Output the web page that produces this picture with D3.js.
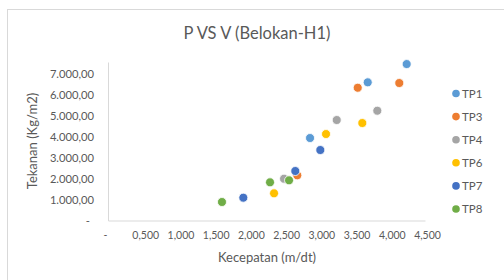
<!DOCTYPE html>
<html><head><meta charset="utf-8">
<script src="https://cdn.jsdelivr.net/npm/d3@7"></script>
<style>body{margin:0;background:#fff}svg{display:block}text{font-family:Lato,"Open Sans",sans-serif;fill:#595959}</style>
</head><body>
<script>
const seriesNames = ["TP1","TP3","TP4","TP6","TP7","TP8"];
const seriesColors = ["#5B9BD5","#ED7D31","#A5A5A5","#FFC000","#4472C4","#70AD47"];
const velocity = [
  [4.24, 3.687, 2.868],
  [3.545, 4.135, 2.687],
  [3.823, 3.247, 2.499],
  [3.610, 3.095, 2.357],
  [3.014, 2.659, 1.921],
  [1.618, 2.300, 2.570]
];
const pressure = [
  [7452, 6581, 3929],
  [6324, 6548, 2152],
  [5229, 4786, 1990],
  [4643, 4119, 1295],
  [3357, 2357, 1086],
  [881, 1819, 1914]
];
const xTicks = [0,0.5,1,1.5,2,2.5,3,3.5,4,4.5];
const xTickLabels = ["-","0,500","1,000","1,500","2,000","2,500","3,000","3,500","4,000","4,500"];
const yTicks = [0,1000,2000,3000,4000,5000,6000,7000];
const yTickLabels = ["-","1.000,00","2.000,00","3.000,00","4.000,00","5.000,00","6.000,00","7.000,00"];

const W=504,H=280;
const svg=d3.select("body").append("svg").attr("width",W).attr("height",H);
svg.append("rect").attr("x",7.5).attr("y",9.5).attr("width",W).attr("height",H).attr("fill","#fff").attr("stroke","#D9D9D9");

const x=d3.scaleLinear().domain([0,4.5]).range([108,425]);
const y=d3.scaleLinear().domain([0,7550]).range([220.5,62]);

svg.append("text").attr("x",257).attr("y",39).attr("text-anchor","middle").style("font-size","16.5px").text("P VS V (Belokan-H1)");

// axes
const xa=svg.append("g").attr("transform","translate(0,220.5)")
  .call(d3.axisBottom(x).tickValues(xTicks).tickSize(0).tickPadding(11).tickFormat((d,i)=>xTickLabels[i]));
xa.select(".domain").attr("stroke","#D9D9D9");
xa.selectAll("text").style("font-size","10.5px").attr("fill","#595959").attr("dx","2");
xa.selectAll("text").filter((d,i)=>i===0).attr("dx","-3");
const ya=svg.append("g").attr("transform","translate(108,0)")
  .call(d3.axisLeft(y).tickValues(yTicks).tickSize(0).tickPadding(14).tickFormat((d,i)=>yTickLabels[i]));
ya.select(".domain").attr("stroke","#D9D9D9");
ya.selectAll("text").style("font-size","11.2px").attr("fill","#595959");
ya.selectAll("text").filter((d,i)=>i===0).attr("dx","-4");

svg.append("text").attr("x",267).attr("y",262).attr("text-anchor","middle").style("font-size","13px").text("Kecepatan (m/dt)");
svg.append("text").attr("transform","translate(37,141) rotate(-90)").attr("text-anchor","middle").style("font-size","13px").text("Tekanan (Kg/m2)");

// points
seriesNames.forEach((name,si)=>{
  const pts=velocity[si].map((v,i)=>({v,p:pressure[si][i]}));
  svg.append("g").selectAll("circle").data(pts).join("circle")
    .attr("cx",d=>x(d.v)).attr("cy",d=>y(d.p)).attr("r",4.5)
    .attr("fill",seriesColors[si]).attr("stroke","#fff").attr("stroke-width",0.8);
});

// legend
const lg=svg.append("g");
seriesNames.forEach((name,i)=>{
  const yy=93.5+i*23.1;
  lg.append("circle").attr("cx",456).attr("cy",yy).attr("r",3.8).attr("fill",seriesColors[i]);
  lg.append("text").attr("x",462).attr("y",yy).attr("dy","0.36em").style("font-size","11.5px").text(name);
});
</script>
</body></html>
